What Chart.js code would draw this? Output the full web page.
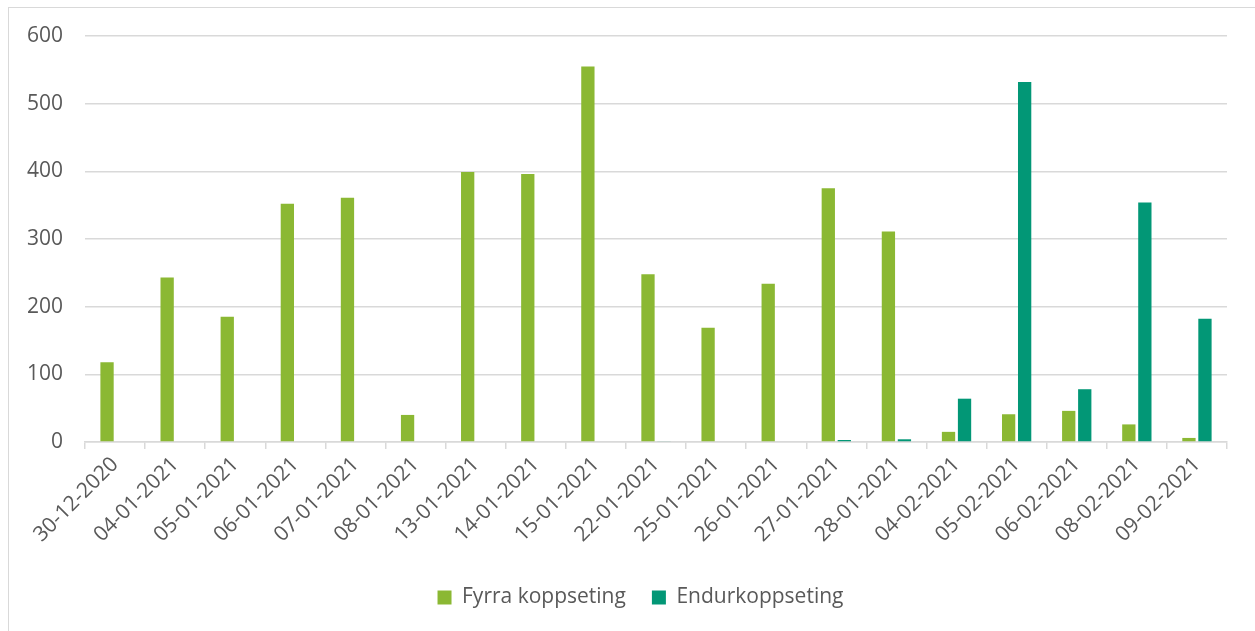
<!DOCTYPE html>
<html lang="nn">
<head>
  <meta charset="UTF-8" />
  <title>Koppseting</title>
  <style>
    html, body { margin: 0; padding: 0; background: #ffffff; overflow: hidden; }
    #frame {
      position: absolute;
      left: 8px;
      top: 7px;
      width: 1300px;
      height: 700px;
      border: 1.5px solid #d9d9d9;
    }
    #wrap { position: absolute; left: 0; top: 0; width: 1255px; height: 631px; }
  </style>
</head>
<body>
  <div id="frame"></div>
  <div id="wrap"><canvas id="myChart"></canvas></div>

  <script src="https://cdn.jsdelivr.net/npm/chart.js"></script>
  <script>
    // dates on the x axis
    const labels = [
      "30-12-2020", "04-01-2021", "05-01-2021", "06-01-2021", "07-01-2021",
      "08-01-2021", "13-01-2021", "14-01-2021", "15-01-2021", "22-01-2021",
      "25-01-2021", "26-01-2021", "27-01-2021", "28-01-2021", "04-02-2021",
      "05-02-2021", "06-02-2021", "08-02-2021", "09-02-2021"
    ];

    // first dose
    const fyrra = [118, 243, 185, 352, 361, 40, 399, 396, 555, 248,
                   169, 234, 375, 311, 15, 41, 46, 26, 6];

    // second dose
    const endur = [null, null, null, null, null, null, null, null, null, 1,
                   null, null, 3, 4, 64, 532, 78, 354, 182];

    const yTicks = [0, 100, 200, 300, 400, 500, 600];

    const textColor = "#595959";
    const gridColor = "#d9d9d9";
    const font = { family: "'Open Sans', sans-serif", size: 21 };

    // legend sits a little right of centre in the original
    const legendShift = {
      id: "legendShift",
      afterUpdate(chart) {
        const lg = chart.legend;
        if (!lg) return;
        lg.left += 27;
        lg.right += 27;
      }
    };

    const ctx = document.getElementById("myChart").getContext("2d");
    new Chart(ctx, {
      type: "bar",
      data: {
        labels: labels,
        datasets: [
          {
            label: "Fyrra koppseting",
            data: fyrra,
            backgroundColor: "#8bb833",
            categoryPercentage: 0.533,
            barPercentage: 0.83
          },
          {
            label: "Endurkoppseting",
            data: endur,
            backgroundColor: "#029776",
            categoryPercentage: 0.533,
            barPercentage: 0.83
          }
        ]
      },
      plugins: [legendShift],
      options: {
        responsive: true,
        maintainAspectRatio: false,
        animation: false,
        layout: { padding: { top: 36, right: 28, bottom: 13, left: 0 } },
        plugins: {
          tooltip: { enabled: false },
          legend: {
            position: "bottom",
            labels: {
              color: textColor,
              font: font,
              boxWidth: 14,
              boxHeight: 14,
              padding: 26
            }
          }
        },
        scales: {
          x: {
            grid: {
              offset: true,
              drawOnChartArea: false,
              color: gridColor,
              lineWidth: 1.5,
              tickLength: 7
            },
            border: { display: true, color: gridColor, width: 1.5 },
            ticks: {
              color: textColor,
              font: font,
              autoSkip: false,
              minRotation: 45,
              maxRotation: 45,
              padding: 3
            },
            afterFit: (scale) => { scale.height = 119; }
          },
          y: {
            min: 0,
            max: 600,
            afterBuildTicks: (scale) => {
              scale.ticks = yTicks.map((v) => ({ value: v }));
            },
            grid: { color: gridColor, lineWidth: 1.5, drawTicks: false },
            border: { display: false },
            ticks: { color: textColor, font: font, padding: 22 },
            afterFit: (scale) => { scale.width = 85; }
          }
        }
      }
    });
  </script>
</body>
</html>
